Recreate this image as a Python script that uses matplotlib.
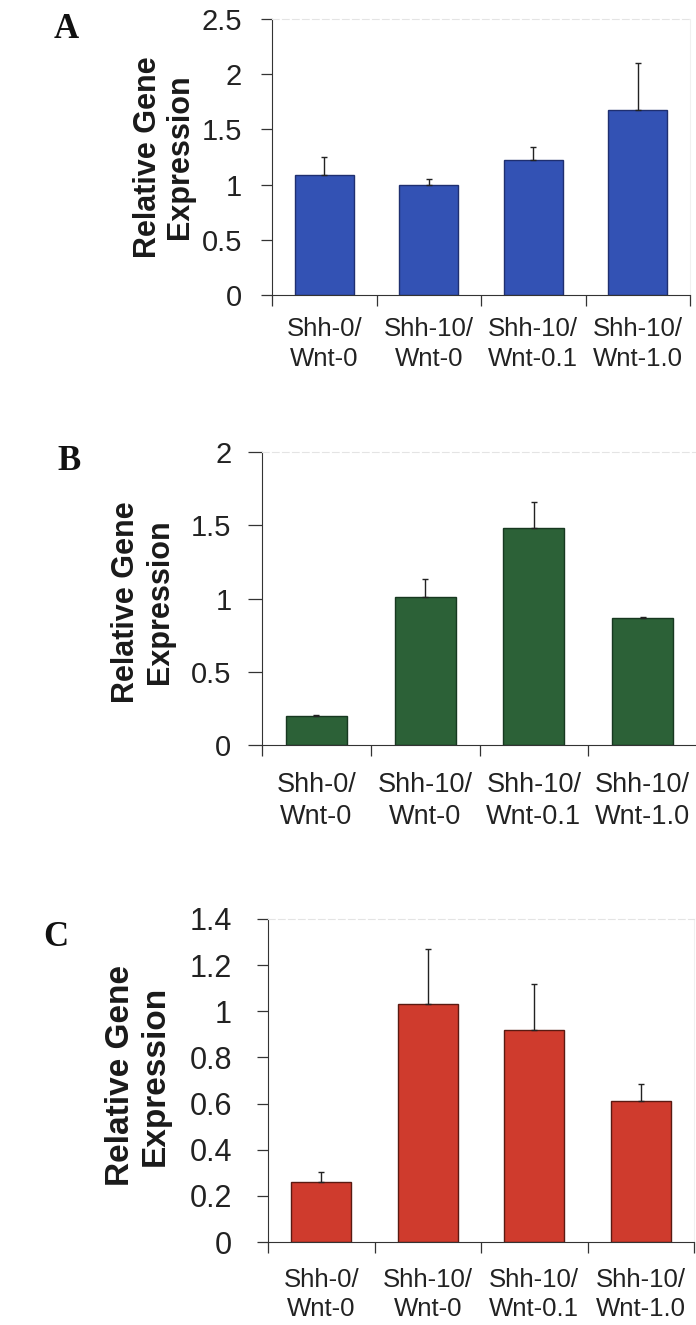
import numpy as np
import matplotlib
matplotlib.use("Agg")
import matplotlib.pyplot as plt
from matplotlib.ticker import FixedLocator

plt.rcParams['font.family'] = ['Liberation Sans', 'DejaVu Sans']

W, H = 696, 1325

# data
groups = ['Shh-0/\nWnt-0', 'Shh-10/\nWnt-0', 'Shh-10/\nWnt-0.1', 'Shh-10/\nWnt-1.0']

a_vals = [1.09, 1.00, 1.22, 1.68]
a_err = [0.16, 0.05, 0.12, 0.42]
a_ticks = [0, 0.5, 1, 1.5, 2, 2.5]
a_ticklabels = ['0', '0.5', '1', '1.5', '2', '2.5']

b_vals = [0.20, 1.01, 1.48, 0.87]
b_err = [0.005, 0.12, 0.18, 0.005]
b_ticks = [0, 0.5, 1, 1.5, 2]
b_ticklabels = ['0', '0.5', '1', '1.5', '2']

c_vals = [0.26, 1.03, 0.92, 0.61]
c_err = [0.045, 0.24, 0.20, 0.075]
c_ticks = [0, 0.2, 0.4, 0.6, 0.8, 1.0, 1.2, 1.4]
c_ticklabels = ['0', '0.2', '0.4', '0.6', '0.8', '1', '1.2', '1.4']

fig = plt.figure(figsize=(W / 100, H / 100), dpi=100)


def px(x, y):
    return x / W, 1 - y / H


def panel(left, top, right, zero, vals, err, ticks, ticklabels, color, edge,
          letter, letter_xy, ylab_xy, ytick_fs, ytick_len, ytick_pad,
          ylab_fs, ylab_ls, xtick_fs, xtick_pad):
    ax = fig.add_axes([left / W, 1 - zero / H, (right - left) / W, (zero - top) / H])
    x = np.arange(len(vals))
    ax.bar(x, vals, width=0.56, color=color, edgecolor=edge, linewidth=1.0,
           yerr=[np.zeros(len(err)), err], capsize=2,
           error_kw=dict(ecolor='#222222', elinewidth=1.0, capthick=1.0))
    ax.set_xlim(-0.5, len(vals) - 0.5)
    ax.set_ylim(ticks[0], ticks[-1])
    ax.set_yticks(ticks)
    ax.set_yticklabels(ticklabels, fontsize=ytick_fs, color='#222222')
    ax.set_xticks(x)
    ax.set_xticklabels(groups, fontsize=xtick_fs, color='#222222', linespacing=1.3)
    ax.xaxis.set_minor_locator(FixedLocator(np.arange(-0.5, len(vals), 1.0)))
    ax.tick_params(axis='x', which='major', length=0, pad=xtick_pad)
    ax.tick_params(axis='x', which='minor', length=8, width=0.9, direction='out', color='#333333')
    ax.tick_params(axis='y', length=ytick_len, width=0.9, direction='out',
                   pad=ytick_pad, color='#333333')
    ax.spines['top'].set_color('#e4e4e4')
    ax.spines['top'].set_linestyle((0, (6, 3)))
    ax.spines['top'].set_linewidth(0.8)
    ax.spines['right'].set_color('#f0f0f0')
    ax.spines['right'].set_linewidth(0.8)
    ax.spines['left'].set_color('#333333')
    ax.spines['bottom'].set_color('#333333')
    fig.text(*px(*ylab_xy), 'Relative Gene\nExpression', fontsize=ylab_fs,
             fontweight='bold', linespacing=ylab_ls, rotation=90,
             ha='center', va='center', multialignment='center', color='#1a1a1a')
    fig.text(*px(*letter_xy), letter, fontsize=25, fontweight='bold',
             family=['Liberation Serif', 'DejaVu Serif'],
             ha='center', va='center', color='#111111')
    return ax


panel(272, 19, 690, 295, a_vals, a_err, a_ticks, a_ticklabels,
      '#3352b4', '#1f2f70', 'A', (66, 30), (164, 157),
      21, 8, 13.5, 22, 1.1, 18.5, 16)
panel(262, 452, 697, 745, b_vals, b_err, b_ticks, b_ticklabels,
      '#2c6137', '#173820', 'B', (69, 462), (143, 602),
      21, 10, 12, 22, 1.15, 19.5, 19.5)
panel(268, 919, 694, 1242, c_vals, c_err, c_ticks, c_ticklabels,
      '#cf3b2d', '#5a1a12', 'C', (56, 938), (138, 1076),
      22, 8, 18, 24, 1.15, 18.5, 18.5)

fig.savefig('out.png', dpi=100)
